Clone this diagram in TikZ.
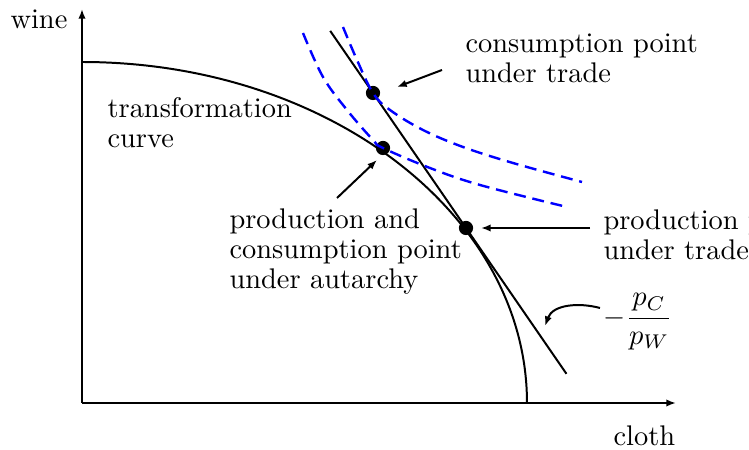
\documentclass[tikz,border=0pt]{standalone}
\usepackage{amsmath}
\usepackage{tikz}
\usetikzlibrary{calc,arrows.meta}

\begin{document}
\begin{tikzpicture}[
    x=0.352pt, y=0.352pt,
    lbl/.style={anchor=north west, inner sep=0pt, align=left, font=\fontsize{10pt}{10.6pt}\selectfont},
    axis/.style={-{Latex[length=3.4pt,width=2.6pt]}, line width=0.7pt},
    arrow/.style={-{Latex[length=3.4pt,width=2.6pt]}, line width=0.7pt},
    curve/.style={line width=0.7pt},
    indiff/.style={blue, dash pattern=on 4.2pt off 2.4pt, line width=0.85pt},
    dot/.style={circle, fill, inner sep=0pt, minimum size=5pt}
]
\clip (0,0) rectangle (749,450);

% axes
\coordinate (O) at (82,47);
\coordinate (ytop) at (82,441);
\coordinate (xend) at (676,47);
\draw[axis] (O) -- (ytop);
\draw[axis] (O) -- (xend);
\node[lbl] (wine) at (10,441) {wine};
\node[lbl] (cloth) at (613,25) {cloth};

% transformation curve
\draw[curve] (82,388) arc[start angle=90, end angle=0, x radius=445, y radius=341];
\node[lbl] (tcurve) at (107,353) {transformation\\curve};

% points
\node[dot] (A) at (383,302) {};
\node[dot] (C) at (373,357) {};
\node[dot] (P) at (466,222) {};

% price line
\draw[curve] ($(C)!-0.46!(P)$) -- ($(C)!2.08!(P)$);

% indifference curves
\draw[indiff] plot[smooth, tension=0.6] coordinates {(343,423) (357,390) (373,357) (390,340) (423,320) (463,303) (513,287) (582,268)};
\draw[indiff] plot[smooth, tension=0.6] coordinates {(303,417) (323,373) (347,340) (373,310) (383,302) (430,282) (480,265) (567,243)};

% labels
\node[lbl] (ctrade) at (465,417) {consumption point\\under trade};
\node[lbl] (autarky) at (229,242) {production and\\consumption point\\under autarchy};
\node[lbl] (ptrade) at (603,241) {production point\\under trade};
\node[anchor=west, inner sep=0pt] (slope) at (603,128) {$-\dfrac{p_C}{p_W}$};

% pointers
\coordinate (c1) at (442,380);
\coordinate (c2) at (397,363);
\coordinate (a1) at (337,252);
\coordinate (a2) at (377,290);
\coordinate (p1) at (590,222);
\coordinate (p2) at (481,222);
\coordinate (s1) at (600,142);
\coordinate (s2) at (545,124);
\draw[arrow] (c1) -- (c2);
\draw[arrow] (a1) -- (a2);
\draw[arrow] (p1) -- (p2);
\draw[arrow] (s1) to[out=165,in=70] (s2);
\end{tikzpicture}
\end{document}
